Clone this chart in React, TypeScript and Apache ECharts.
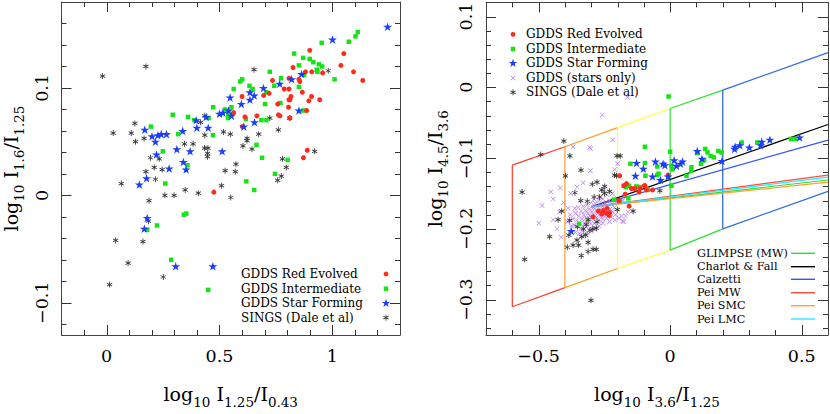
import React, { useEffect, useRef } from 'react';
import * as echarts from 'echarts';

const FONT = '"DejaVu Serif", "Liberation Serif", serif';

// ---------- Left panel data: [log10 I1.25/I0.43, log10 I1.6/I1.25] ----------
const leftRed = [
  [0.900, 0.135], [1.051, 0.132], [1.038, 0.121], [0.826, 0.119], [0.909, 0.115], [0.881, 0.115],
  [0.957, 0.114], [1.094, 0.115], [1.135, 0.107], [0.735, 0.107], [0.808, 0.109], [0.852, 0.108],
  [0.856, 0.106], [0.787, 0.099], [0.808, 0.099], [0.867, 0.096], [0.908, 0.092], [0.720, 0.095],
  [0.696, 0.093], [0.817, 0.092], [0.812, 0.089], [0.808, 0.089], [0.896, 0.088], [0.944, 0.089],
  [0.600, 0.092], [0.758, 0.085], [0.806, 0.082], [0.886, 0.079], [0.563, 0.077], [0.613, 0.073],
  [0.666, 0.074], [0.761, 0.075], [0.768, 0.074], [0.812, 0.072], [0.601, 0.064], [0.889, 0.042],
  [0.872, 0.035], [0.475, 0.003],
];
const leftGreen = [
  [1.113, 0.152], [1.103, 0.148], [1.073, 0.143], [0.953, 0.142], [0.831, 0.132], [0.871, 0.128],
  [0.900, 0.127], [0.916, 0.124], [0.941, 0.122], [0.955, 0.120], [0.852, 0.121], [0.931, 0.117],
  [0.934, 0.115], [0.875, 0.112], [0.723, 0.115], [0.773, 0.109], [1.010, 0.108], [0.601, 0.108],
  [0.592, 0.106], [0.633, 0.102], [0.647, 0.099], [0.743, 0.102], [0.852, 0.101], [0.563, 0.099],
  [0.707, 0.096], [0.702, 0.085], [0.770, 0.086], [0.553, 0.082], [0.870, 0.079], [0.617, 0.071],
  [0.686, 0.070], [0.708, 0.070], [0.664, 0.047], [0.689, 0.035], [0.802, 0.033], [0.746, 0.020],
  [0.619, 0.013], [0.654, 0.005], [0.472, 0.082], [0.293, 0.075], [0.361, 0.073], [0.389, 0.070],
  [0.452, 0.072], [0.525, 0.080], [0.540, 0.076], [0.196, 0.064], [0.317, 0.057], [0.471, 0.056],
  [0.249, 0.041], [0.358, 0.028], [0.260, 0.011], [0.342, -0.018], [0.353, -0.017], [0.223, -0.028],
  [0.180, -0.032], [0.286, -0.060], [0.450, -0.088], [0.538, 0.072],
];
const leftBlue = [
  [1.245, 0.157], [1.001, 0.145], [0.864, 0.113], [0.820, 0.108], [0.767, 0.104], [0.695, 0.100],
  [0.635, 0.096], [0.654, 0.093], [0.635, 0.089], [0.597, 0.085], [0.547, 0.091], [0.540, 0.079],
  [0.515, 0.077], [0.500, 0.076], [0.553, 0.074], [0.397, 0.070], [0.450, 0.063], [0.337, 0.060],
  [0.400, 0.063], [0.655, 0.068], [0.608, 0.064], [0.852, 0.079], [0.169, 0.061], [0.201, 0.055],
  [0.216, 0.050], [0.227, 0.056], [0.242, 0.057], [0.265, 0.057], [0.311, 0.043], [0.370, 0.041],
  [0.512, 0.041], [0.221, 0.038], [0.340, 0.031], [0.277, 0.025], [0.352, 0.024], [0.177, 0.016],
  [0.145, 0.010], [0.180, -0.021], [0.167, -0.031], [0.306, -0.066], [0.471, -0.066], [0.441, 0.073],
];
const leftBlack = [
  [-0.018, 0.111], [0.174, 0.120], [0.653, 0.117], [0.982, 0.116], [0.125, 0.067], [0.029, 0.058],
  [0.109, 0.058], [0.128, 0.050], [0.166, 0.053], [0.435, 0.074], [0.416, 0.068], [0.345, 0.048],
  [0.383, 0.048], [0.435, 0.056], [0.518, 0.059], [0.548, 0.057], [0.622, 0.053], [0.622, 0.051],
  [0.674, 0.057], [0.761, 0.061], [0.604, 0.046], [0.644, 0.043], [0.434, 0.044], [0.449, 0.044],
  [0.447, 0.039], [0.447, 0.036], [0.194, 0.035], [0.233, 0.034], [0.211, 0.026], [0.246, 0.024],
  [0.174, 0.022], [0.216, 0.015], [0.065, 0.011], [0.348, 0.005], [0.406, 0.002], [0.509, 0.009],
  [0.258, 0.000], [0.299, 0.000], [0.550, -0.002], [0.188, -0.005], [0.525, 0.023], [0.573, 0.029],
  [0.570, 0.022], [0.779, 0.034], [0.796, 0.026], [0.774, 0.018], [0.758, 0.014], [0.922, 0.041],
  [0.723, 0.072], [0.811, 0.072], [0.185, -0.024], [0.161, -0.043], [0.040, -0.042], [0.095, -0.063],
  [0.251, -0.076], [0.013, -0.083],
];

// ---------- Right panel data: [log10 I3.6/I1.25, log10 I4.5/I3.6] ----------
const rightRed = [
  [-0.192, -0.125], [-0.166, -0.136], [-0.176, -0.139], [-0.147, -0.143], [-0.135, -0.143],
  [-0.115, -0.143], [-0.118, -0.148], [-0.096, -0.139], [-0.090, -0.145], [-0.067, -0.145],
  [-0.171, -0.151], [-0.156, -0.168], [-0.255, -0.174], [-0.240, -0.171], [-0.230, -0.177],
  [-0.232, -0.181], [-0.273, -0.175], [-0.293, -0.183], [-0.008, -0.124], [-0.098, -0.139],
  [-0.242, -0.178], [-0.260, -0.179], [-0.195, -0.160],
];
const rightGreen = [
  [-0.006, -0.013], [-0.096, -0.084], [0.0, -0.091], [-0.151, -0.108], [-0.096, -0.107],
  [-0.049, -0.112], [-0.044, -0.122], [-0.094, -0.125], [-0.049, -0.124], [0.005, -0.111],
  [0.009, -0.116], [0.005, -0.139], [0.081, -0.113], [0.080, -0.118], [0.062, -0.125],
  [0.104, -0.093], [0.133, -0.087], [0.142, -0.092], [0.154, -0.097], [0.166, -0.099],
  [0.183, -0.090], [0.195, -0.092], [0.117, -0.108], [0.129, -0.103], [0.272, -0.078],
  [0.331, -0.078], [0.459, -0.073], [0.476, -0.073], [-0.085, -0.145], [-0.176, -0.139],
  [-0.168, -0.141], [-0.156, -0.139], [-0.128, -0.140], [-0.114, -0.141], [-0.086, -0.144],
  [-0.159, -0.157], [-0.192, -0.161], [-0.213, -0.159], [-0.346, -0.193],
];
const rightBlue = [
  [-0.128, -0.107], [-0.102, -0.115], [-0.132, -0.125], [-0.067, -0.126], [-0.056, -0.105],
  [-0.027, -0.108], [-0.020, -0.110], [-0.037, -0.131], [-0.008, -0.126], [0.015, -0.103],
  [0.024, -0.111], [0.039, -0.108], [0.047, -0.105], [0.103, -0.090], [0.121, -0.101],
  [0.197, -0.104], [0.245, -0.087], [0.247, -0.084], [0.265, -0.082], [0.301, -0.085],
  [0.344, -0.082], [0.348, -0.077], [0.379, -0.074], [0.492, -0.071], [-0.376, -0.203],
];
const rightStars = [
  [-0.162, -0.014], [-0.258, -0.039], [-0.218, -0.074], [-0.302, -0.087], [-0.369, -0.084],
  [-0.306, -0.085], [-0.200, -0.108], [-0.303, -0.118], [-0.211, -0.116], [-0.331, -0.135],
  [-0.418, -0.142], [-0.454, -0.148], [-0.445, -0.158], [-0.487, -0.167], [-0.354, -0.141],
  [-0.363, -0.171], [-0.445, -0.187], [-0.499, -0.192], [-0.430, -0.200], [-0.414, -0.212],
  [-0.388, -0.171], [-0.185, -0.182], [-0.177, -0.190], [-0.169, -0.182], [-0.181, -0.189],
  [-0.195, -0.185], [-0.160, -0.176], [-0.420, -0.176], [-0.405, -0.163], [-0.378, -0.150],
  [-0.250, -0.145], [-0.180, -0.160],
  [-0.380, -0.180], [-0.370, -0.186], [-0.365, -0.195], [-0.360, -0.178], [-0.355, -0.188],
  [-0.350, -0.170], [-0.348, -0.182], [-0.345, -0.192], [-0.340, -0.200], [-0.338, -0.175],
  [-0.335, -0.186], [-0.330, -0.168], [-0.328, -0.180], [-0.325, -0.192], [-0.322, -0.174],
  [-0.320, -0.185], [-0.318, -0.197], [-0.315, -0.166], [-0.312, -0.178], [-0.310, -0.189],
  [-0.307, -0.172], [-0.305, -0.182], [-0.302, -0.193], [-0.300, -0.163], [-0.298, -0.176],
  [-0.295, -0.186], [-0.292, -0.170], [-0.290, -0.180], [-0.288, -0.192], [-0.285, -0.164],
  [-0.282, -0.174], [-0.280, -0.184], [-0.277, -0.168], [-0.275, -0.178], [-0.272, -0.188],
  [-0.270, -0.160], [-0.268, -0.172], [-0.265, -0.182], [-0.262, -0.166], [-0.260, -0.176],
  [-0.257, -0.186], [-0.255, -0.158], [-0.252, -0.170], [-0.250, -0.180], [-0.247, -0.164],
  [-0.245, -0.174], [-0.242, -0.185], [-0.238, -0.168], [-0.235, -0.178], [-0.232, -0.160],
  [-0.228, -0.172], [-0.225, -0.183], [-0.222, -0.165], [-0.218, -0.176], [-0.215, -0.157],
  [-0.212, -0.170], [-0.208, -0.180], [-0.205, -0.162], [-0.230, -0.190], [-0.210, -0.188],
  [-0.360, -0.205], [-0.345, -0.207], [-0.330, -0.205], [-0.315, -0.205], [-0.300, -0.203],
  [-0.285, -0.200], [-0.270, -0.196], [-0.375, -0.196], [-0.390, -0.190], [-0.255, -0.192],
  [-0.240, -0.152], [-0.220, -0.150], [-0.265, -0.155], [-0.290, -0.158],
];
const rightBlack = [
  [-0.404, -0.076], [-0.492, -0.095], [-0.381, -0.097], [-0.202, -0.097], [-0.190, -0.097],
  [-0.339, -0.117], [-0.398, -0.125], [-0.204, -0.125], [-0.211, -0.124], [-0.278, -0.134],
  [-0.296, -0.137], [-0.362, -0.149], [-0.563, -0.148], [-0.249, -0.140], [-0.260, -0.145],
  [-0.268, -0.155], [-0.289, -0.155], [-0.315, -0.161], [-0.340, -0.160], [-0.141, -0.175],
  [-0.201, -0.173], [-0.412, -0.175], [-0.426, -0.187], [-0.312, -0.187], [-0.382, -0.188],
  [-0.278, -0.190], [-0.319, -0.194], [-0.353, -0.197], [-0.281, -0.199], [-0.294, -0.200],
  [-0.330, -0.200], [-0.305, -0.202], [-0.321, -0.209], [-0.336, -0.211], [-0.354, -0.216],
  [-0.312, -0.219], [-0.348, -0.223], [-0.369, -0.223], [-0.391, -0.226], [-0.293, -0.229],
  [-0.281, -0.229], [-0.312, -0.232], [-0.338, -0.238], [-0.458, -0.211], [-0.553, -0.243],
  [-0.385, -0.209], [-0.301, -0.301], [-0.039, -0.146], [-0.230, -0.147], [-0.250, -0.150],
];

// Model grid (parallelogram) in right panel
const boxX = [-0.6, -0.4, -0.2, 0, 0.2, 0.6];
const boxTop = [-0.110, -0.084, -0.057, -0.030, -0.004, 0.049];
const boxBottom = [-0.310, -0.283, -0.256, -0.230, -0.200, -0.147];
const boxColors = ['#ff3b2a', '#ff9a1f', '#ffff3a', '#2ee02e', '#2a6fe0'];
const boxVColors = ['#ff3b2a', '#ff9a1f', '#ffff3a', '#2ee02e', '#1f5fc8'];

// Extinction vectors
const vecStart = [-0.30, -0.169];
const vecEndX = 0.6;
const vecNames = ['GLIMPSE (MW)', 'Charlot & Fall', 'Calzetti', 'Pei MW', 'Pei SMC', 'Pei LMC'];
const vecEndY = [-0.131, -0.0526, -0.0746, -0.124, -0.134, -0.127];
const vecColors = ['#33dd33', '#000000', '#3355ff', '#ff4a3a', '#ffa12e', '#2ee6ff'];

// Axis ranges and ticks
const leftXRange = [-0.2, 1.3];
const leftYRange = [-0.13, 0.18];
const rightXRange = [-0.7, 0.6];
const rightYRange = [-0.35, 0.12];
const leftXMinor = [-0.1, 0, 0.1, 0.2, 0.3, 0.4, 0.5, 0.6, 0.7, 0.8, 0.9, 1.0, 1.1, 1.2];
const leftXMajor = [0, 0.5, 1];
const leftYMinor = [-0.12, -0.1, -0.08, -0.06, -0.04, -0.02, 0, 0.02, 0.04, 0.06, 0.08, 0.1, 0.12, 0.14, 0.16];
const leftYMajor = [-0.1, 0, 0.1];
const rightXMinor = [-0.6, -0.5, -0.4, -0.3, -0.2, -0.1, 0, 0.1, 0.2, 0.3, 0.4, 0.5];
const rightXMajor = [-0.5, 0, 0.5];
const rightYMinor = [-0.34, -0.32, -0.3, -0.28, -0.26, -0.24, -0.22, -0.2, -0.18, -0.16, -0.14, -0.12,
  -0.1, -0.08, -0.06, -0.04, -0.02, 0, 0.02, 0.04, 0.06, 0.08, 0.1];
const rightYMajor = [-0.3, -0.2, -0.1, 0, 0.1];

const leftLegend = ['GDDS Red Evolved', 'GDDS Intermediate', 'GDDS Star Forming', 'SINGS (Dale et al)'];
const rightLegend = ['GDDS Red Evolved', 'GDDS Intermediate', 'GDDS Star Forming', 'GDDS (stars only)', 'SINGS (Dale et al)'];

const RED = '#ff2a1a';
const GREEN = '#12e612';
const BLUE = '#1a3dff';
const BLACK = '#333333';
const PURPLE = '#b87cf0';
const FRAME = '#444444';
const TICK = '#333333';

const STAR_D = 'M0,-1L0.2245,-0.309L0.951,-0.309L0.363,0.118L0.588,0.809L0,0.382L-0.588,0.809L-0.363,0.118L-0.951,-0.309L-0.2245,-0.309Z';
const AST_D = 'M-0.14,-1L0.14,-1L0.14,1L-0.14,1Z M-0.936,-0.379L-0.796,-0.621L0.936,0.379L0.796,0.621Z M-0.796,0.621L-0.936,0.379L0.796,-0.621L0.936,-0.379Z';
const X_D = 'M-1.1,-0.9L-0.9,-1.1L1.1,0.9L0.9,1.1Z M-0.9,1.1L-1.1,0.9L0.9,-1.1L1.1,-0.9Z';

let registered = false;
function registerShapes() {
  if (registered) return;
  registered = true;
  echarts.graphic.registerShape('starMark', echarts.graphic.extendPath(STAR_D, {}));
  echarts.graphic.registerShape('astMark', echarts.graphic.extendPath(AST_D, {}));
  echarts.graphic.registerShape('xMark', echarts.graphic.extendPath(X_D, {}));
}

function fmt(v: number) {
  if (Math.abs(v) < 1e-9) return '0';
  const s = String(Math.round(Math.abs(v) * 100) / 100);
  return v < 0 ? '\u2212' + s : s;
}

const nameStyle = {
  fontFamily: FONT,
  fontSize: 19,
  color: '#000',
  rich: {
    s: { fontFamily: FONT, fontSize: 13.5, color: '#000', verticalAlign: 'bottom', lineHeight: 30 },
  },
};

function makeAxes(dim: 'x' | 'y', grid: number, range: number[], major: number[], name: string, nameGap: number) {
  const pos1 = dim === 'x' ? 'bottom' : 'left';
  const pos2 = dim === 'x' ? 'top' : 'right';
  const base = {
    type: 'value', gridIndex: grid, min: range[0], max: range[1], scale: true,
    splitLine: { show: false },
    axisTick: { show: false },
  };
  const frameAxis = (pos: string) => ({
    ...base, position: pos,
    axisLine: { show: true, onZero: false, lineStyle: { color: FRAME, width: 1 } },
    axisLabel: { show: false },
  });
  const labelAxis = {
    ...base, position: pos1,
    axisLine: { show: false, onZero: false },
    axisLabel: {
      show: true, customValues: major, formatter: (v: number) => fmt(v),
      fontFamily: FONT, fontSize: 17.5, color: '#000',
      rotate: dim === 'y' ? 90 : 0, margin: dim === 'y' ? 11 : 12,
    },
    name,
    nameLocation: 'middle',
    nameGap,
    nameTextStyle: nameStyle,
  };
  return [frameAxis(pos1), labelAxis, frameAxis(pos2)];
}

function scatter(name: string, data: number[][], grid: number, symbol: string, size: number, color: string, z = 5) {
  return {
    name, type: 'scatter', xAxisIndex: grid * 3, yAxisIndex: grid * 3,
    data, symbol, symbolSize: size, symbolKeepAspect: true,
    itemStyle: { color, opacity: 1 }, z, silent: true,
  };
}

function lineSeg(pts: number[][], color: string, width = 1.2) {
  return {
    type: 'line', xAxisIndex: 3, yAxisIndex: 3, data: pts, symbol: 'none', silent: true,
    lineStyle: { color, width }, z: 2, animation: false,
  };
}

function buildOption() {
  const series: any[] = [];
  for (let i = 0; i < boxColors.length; i++) {
    series.push(lineSeg([[boxX[i], boxTop[i]], [boxX[i + 1], boxTop[i + 1]]], boxColors[i]));
    series.push(lineSeg([[boxX[i], boxBottom[i]], [boxX[i + 1], boxBottom[i + 1]]], boxColors[i]));
    series.push(lineSeg([[boxX[i], boxTop[i]], [boxX[i], boxBottom[i]]], boxVColors[i]));
  }
  for (let i = 0; i < vecNames.length; i++) {
    series.push({ ...lineSeg([vecStart, [vecEndX, vecEndY[i]]], vecColors[i]), name: vecNames[i] });
  }
  const star = 'path://' + STAR_D;
  const ast = 'path://' + AST_D;
  const xm = 'path://' + X_D;
  series.push(scatter('SINGS', leftBlack, 0, ast, 6, BLACK));
  series.push(scatter('Intermediate', leftGreen, 0, 'rect', 4.5, GREEN));
  series.push(scatter('Red', leftRed, 0, 'circle', 5, RED));
  series.push(scatter('Star Forming', leftBlue, 0, star, 9, BLUE));
  series.push(scatter('stars only', rightStars, 1, xm, 5, PURPLE));
  series.push(scatter('SINGS R', rightBlack, 1, ast, 6, BLACK));
  series.push(scatter('Intermediate R', rightGreen, 1, 'rect', 4.5, GREEN));
  series.push(scatter('Red R', rightRed, 1, 'circle', 5, RED));
  series.push(scatter('Star Forming R', rightBlue, 1, star, 9, BLUE));

  const xAxis = [
    ...makeAxes('x', 0, leftXRange, leftXMajor, 'log{s|10} I{s|1.25}/I{s|0.43}', 44),
    ...makeAxes('x', 1, rightXRange, rightXMajor, 'log{s|10} I{s|3.6}/I{s|1.25}', 44),
  ];
  const yAxis = [
    ...makeAxes('y', 0, leftYRange, leftYMajor, 'log{s|10} I{s|1.6}/I{s|1.25}', 36),
    ...makeAxes('y', 1, rightYRange, rightYMajor, 'log{s|10} I{s|4.5}/I{s|3.6}', 36),
  ];

  return {
    animation: false,
    backgroundColor: '#ffffff',
    grid: [
      { left: 58, top: 2, width: 342, height: 342 },
      { left: 486, top: 2, width: 342, height: 342 },
    ],
    xAxis, yAxis, series,
  };
}

function legendGraphic() {
  const graphic: any[] = [];
  const txt = (x: number, y: number, text: string, size = 12) => ({
    type: 'text', x, y, silent: true,
    style: { text, fontFamily: FONT, fontSize: size, lineHeight: size, fill: '#000', textVerticalAlign: 'middle', textAlign: 'left' },
  });
  const symbolFor = (kind: string, x: number, y: number) => {
    if (kind === 'circle') return { type: 'circle', shape: { cx: x, cy: y, r: 2.4 }, style: { fill: RED }, silent: true };
    if (kind === 'rect') return { type: 'rect', shape: { x: x - 2.2, y: y - 2.2, width: 4.4, height: 4.4 }, style: { fill: GREEN }, silent: true };
    if (kind === 'star') return { type: 'starMark', x, y, scaleX: 4.5, scaleY: 4.5, style: { fill: BLUE }, silent: true };
    if (kind === 'x') return { type: 'xMark', x, y, scaleX: 2.3, scaleY: 2.3, style: { fill: PURPLE }, silent: true };
    return { type: 'astMark', x, y, scaleX: 3, scaleY: 3, style: { fill: BLACK }, silent: true };
  };
  const leftRows = [274, 288.7, 303.3, 317.7];
  const leftKinds = ['circle', 'rect', 'star', 'ast'];
  leftLegend.forEach((t, i) => {
    graphic.push(txt(241, leftRows[i], t));
    graphic.push(symbolFor(leftKinds[i], 386, leftRows[i]));
  });
  const rRows = [34.3, 49, 63.3, 78, 92.3];
  const rKinds = ['circle', 'rect', 'star', 'x', 'ast'];
  rightLegend.forEach((t, i) => {
    graphic.push(txt(526, rRows[i], t));
    graphic.push(symbolFor(rKinds[i], 513, rRows[i]));
  });
  const bRows = [253.3, 266.7, 279.3, 292.7, 305.7, 319];
  vecNames.forEach((t, i) => {
    graphic.push(txt(697, bRows[i], t, 11.2));
    graphic.push({ type: 'line', shape: { x1: 791, y1: bRows[i], x2: 815, y2: bRows[i] }, style: { stroke: vecColors[i], lineWidth: 1.4 }, silent: true });
  });
  return graphic;
}

// Tick marks on all four sides of each frame, placed through the axes' own scales
function tickGraphic(chart: any) {
  const out: any[] = [];
  const panels = [
    { xi: 0, yi: 0, xr: leftXRange, yr: leftYRange, xMinor: leftXMinor, xMajor: leftXMajor, yMinor: leftYMinor, yMajor: leftYMajor },
    { xi: 3, yi: 3, xr: rightXRange, yr: rightYRange, xMinor: rightXMinor, xMajor: rightXMajor, yMinor: rightYMinor, yMajor: rightYMajor },
  ];
  const seg = (x1: number, y1: number, x2: number, y2: number) => ({
    type: 'line', silent: true, z: 10,
    shape: { x1, y1, x2, y2 }, style: { stroke: TICK, lineWidth: 1 },
  });
  panels.forEach((p) => {
    const toX = (v: number) => chart.convertToPixel({ xAxisIndex: p.xi }, v) as number;
    const toY = (v: number) => chart.convertToPixel({ yAxisIndex: p.yi }, v) as number;
    const xL = toX(p.xr[0]);
    const xR = toX(p.xr[1]);
    const yB = toY(p.yr[0]);
    const yT = toY(p.yr[1]);
    if (![xL, xR, yB, yT].every((n) => typeof n === 'number' && isFinite(n))) return;
    const addX = (vals: number[], len: number) => vals.forEach((v) => {
      const px = Math.round(toX(v)) + 0.5;
      out.push(seg(px, yB, px, yB - len));
      out.push(seg(px, yT, px, yT + len));
    });
    const addY = (vals: number[], len: number) => vals.forEach((v) => {
      const py = Math.round(toY(v)) + 0.5;
      out.push(seg(xL, py, xL + len, py));
      out.push(seg(xR, py, xR - len, py));
    });
    addX(p.xMinor, 5);
    addX(p.xMajor, 10);
    addY(p.yMinor, 5);
    addY(p.yMajor, 10);
  });
  return out;
}

export default function App() {
  const ref = useRef<HTMLDivElement>(null);
  useEffect(() => {
    registerShapes();
    const chart = echarts.init(ref.current!, null, { renderer: 'svg' });
    chart.setOption(buildOption() as any);
    let ticks: any[] = [];
    try {
      ticks = tickGraphic(chart);
    } catch (e) {
      ticks = [];
    }
    chart.setOption({ graphic: [...legendGraphic(), ...ticks] } as any);
    return () => chart.dispose();
  }, []);
  return <div ref={ref} style={{ position: 'fixed', left: 0, top: 0, width: 830, height: 414 }} />;
}
